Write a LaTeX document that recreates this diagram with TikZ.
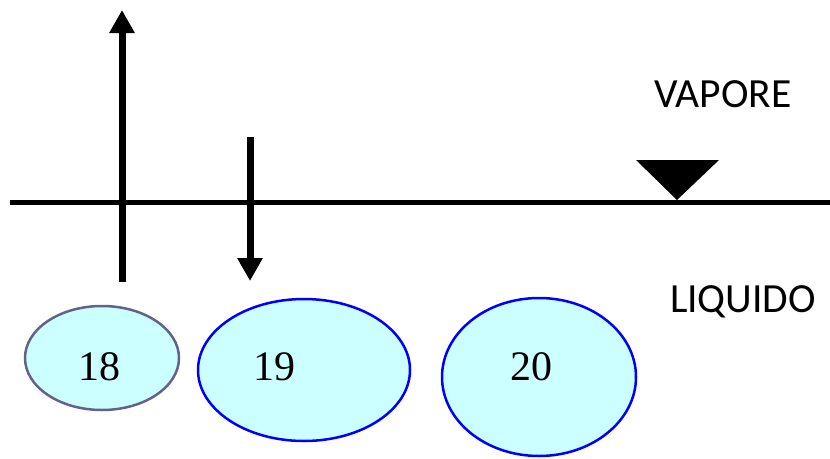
\documentclass[tikz,border=0pt]{standalone}
\usepackage{fontspec}
\setmainfont{Liberation Serif}
\newfontfamily\labfont{Carlito}
\usetikzlibrary{arrows.meta}
\definecolor{fillc}{HTML}{CCFFFF}
\definecolor{grayb}{HTML}{62628F}
\tikzset{
  flowarrow/.style={line width=7pt,-{Triangle[width=24pt,length=23pt]}},
  bubble/.style={fill=fillc,line width=2.5pt},
  phaselabel/.style={font=\labfont\fontsize{41.5}{48}\selectfont,inner sep=0pt},
  numlabel/.style={font=\fontsize{42}{48}\selectfont,inner sep=0pt}
}
\begin{document}
\begin{tikzpicture}[x=1pt,y=-1pt]
\useasboundingbox (0,0) rectangle (830,458);
% interface line
\coordinate (L0) at (10,202);
\coordinate (L1) at (830,202);
\draw[line width=5pt] (L0) -- (L1);
% arrows
\coordinate (a1s) at (122,282);
\coordinate (a1e) at (122,10);
\coordinate (a2s) at (250,137);
\coordinate (a2e) at (250,281);
\draw[flowarrow] (a1s) -- (a1e);
\draw[flowarrow] (a2s) -- (a2e);
% level triangle
\coordinate (t1) at (636,160);
\coordinate (t2) at (719,160);
\coordinate (t3) at (677,200);
\fill (t1) -- (t2) -- (t3) -- cycle;
% labels
\node[phaselabel] (vap) at (723,94) {VAPORE};
\node[phaselabel] (liq) at (743,302) {LIQUIDO};
% bubbles
\draw[bubble,draw=grayb] (102,358) ellipse [x radius=77, y radius=52];
\draw[bubble,draw=blue] (304,370) ellipse [x radius=106, y radius=71];
\draw[bubble,draw=blue] (539,377) ellipse [x radius=97, y radius=79];
\node[numlabel] (n18) at (99.5,367) {18};
\node[numlabel] (n19) at (274.5,367) {19};
\node[numlabel] (n20) at (531,367) {20};
\end{tikzpicture}
\end{document}
